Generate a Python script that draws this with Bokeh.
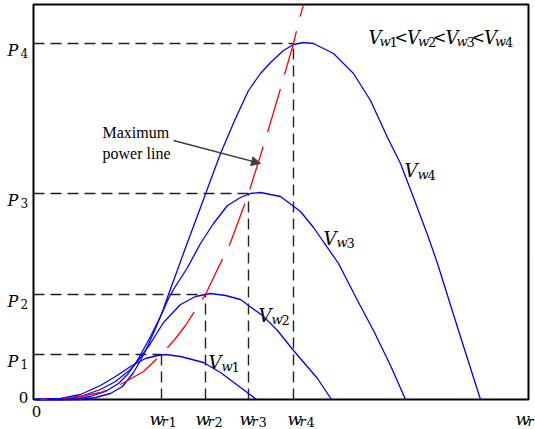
from bokeh.plotting import figure
from bokeh.models import Range1d, Label, Arrow, NormalHead, ColumnDataSource
from bokeh.embed import file_html
from bokeh.resources import INLINE

# ---- data (rotor speed w_r, power P; arbitrary units) ----
vw1_w = [2, 27, 47, 67, 82, 97, 112, 124, 132, 147, 170, 187, 207, 223]
vw1_p = [0, 1, 5, 14, 23, 33, 41, 44, 45, 43, 37, 27, 12, 0]

vw2_w = [2, 27, 47, 67, 82, 97, 107, 117, 130, 147, 162, 177, 192, 207, 215, 229, 244, 260, 284, 298]
vw2_p = [0, 0, 3, 10, 18, 30, 42, 56, 77, 95, 103, 106, 104, 100, 94, 84, 69, 49, 21, 0]

vw3_w = [2, 37, 57, 72, 85, 95, 105, 117, 127, 135, 140, 154, 167, 180, 194, 207, 217, 227, 247, 267,
         280, 305, 324, 340, 357, 372]
vw3_p = [0, 0, 3, 8, 16, 26, 41, 63, 83, 101, 110, 132, 156, 176, 194, 202, 206, 207, 203, 188,
         172, 136, 99, 69, 34, 0]

vw4_w = [2, 47, 62, 77, 89, 100, 107, 114, 122, 129, 135, 151, 167, 187, 202, 215, 227, 237, 250, 260,
         270, 280, 300, 320, 337, 354, 367, 380, 395, 404, 425, 447]
vw4_p = [0, 0, 2, 6, 13, 27, 39, 53, 71, 88, 105, 149, 192, 246, 281, 309, 326, 337, 349, 355,
         357, 356, 346, 326, 299, 262, 236, 202, 162, 136, 69, 0]

mpl_w = [7, 27, 47, 67, 87, 110, 128, 142, 152, 172, 182, 197, 207, 215, 227, 237, 247, 260, 265, 270]
mpl_p = [0, 1, 3, 7, 15, 28, 45, 61, 74, 105, 126, 157, 184, 206, 244, 277, 311, 356, 377, 395]

p_levels = [45, 105, 206, 356]      # P1..P4
wr_levels = [128, 172, 215, 260]    # w_r1..w_r4
level_names = ["1", "2", "3", "4"]

W_MAX, P_MAX = 495, 395             # extent of the plotted box

X0, Y0 = 33, 399  # box origin in page pixels (layout only)

p = figure(width=535, height=429, x_range=Range1d(-X0, 535 - X0), y_range=Range1d(Y0 - 429, Y0),
           output_backend="svg", toolbar_location=None,
           min_border_left=0, min_border_right=0, min_border_top=0, min_border_bottom=0)
p.xaxis.visible = False
p.yaxis.visible = False
p.grid.visible = False
p.outline_line_color = None
p.background_fill_color = "white"
p.border_fill_color = "white"

# box around the plotting area
p.quad(left=[0], right=[W_MAX], bottom=[0], top=[P_MAX], fill_color=None,
       line_color="black", line_width=2)

# dashed guide lines
src = ColumnDataSource(dict(wr=wr_levels, P=p_levels, zero=[0] * 4))
p.segment(x0="zero", y0="P", x1="wr", y1="P", source=src, line_color="#222222",
          line_width=1.4, line_dash="11 6")
p.segment(x0="wr", y0="zero", x1="wr", y1="P", source=src, line_color="#222222",
          line_width=1.4, line_dash="11 6")

for xs, ys in [(vw1_w, vw1_p), (vw2_w, vw2_p), (vw3_w, vw3_p), (vw4_w, vw4_p)]:
    p.line(xs, ys, line_color="#0000ff", line_width=1.3, line_join="round")

p.line(mpl_w, mpl_p, line_color="#ff0000", line_width=1.3, line_dash="45 15", line_dash_offset=38)

MATH = "DejaVu Serif"
TXT = "Liberation Serif"


def lab(px, py, text, size, style="italic", font=MATH, align="left", baseline="alphabetic", color="black"):
    p.add_layout(Label(x=px - X0, y=Y0 - py, text=text, text_font=font,
                       text_font_size=f"{size}px", text_font_style=style,
                       text_align=align, text_baseline=baseline, text_color=color))


# P labels on the y side
for P, n in zip(p_levels, level_names):
    py = Y0 - P
    lab(7, py + 6.5, "P", 16)
    lab(20, py + 9.5, n, 12, style="normal")
lab(23, 397, "0", 15, style="normal", align="center", baseline="middle")
lab(36, 411, "0", 15, style="normal", align="center", baseline="middle")

# w_r labels on the x side
for sx, n in zip([149, 195, 239, 287], level_names):
    lab(sx, 418, "w", 17)
    lab(sx + 12, 421, "r", 13)
    lab(sx + 19, 421, n, 13, style="normal")
lab(515, 418, "w", 17)
lab(527, 421, "r", 13)

# curve labels
for (sx, sy), n in zip([(208, 362), (258, 315), (323, 238), (404, 170)], level_names):
    lab(sx, sy, "V", 18)
    lab(sx + 13, sy + 4, "w", 13)
    lab(sx + 23, sy + 4, n, 13, style="normal")

# relation text
for i, n in enumerate(level_names):
    bx = 368 + 38.5 * i
    lab(bx, 37, "V", 18)
    lab(bx + 11, 41, "w", 13)
    lab(bx + 21, 41, n, 13, style="normal")
    if i < 3:
        lab(bx + 26, 37, "<", 16, style="normal")

# annotation
lab(102, 132, "Maximum", 16, style="normal", font=TXT)
lab(102, 153, "power line", 16, style="normal", font=TXT)
p.add_layout(Arrow(x_start=173 - X0, y_start=Y0 - 140, x_end=260 - X0, y_end=Y0 - 163,
                   line_color="#404040", line_width=1.5,
                   end=NormalHead(size=9, fill_color="#404040", line_color="#404040")))

open("out.html", "w").write(file_html(p, INLINE))
